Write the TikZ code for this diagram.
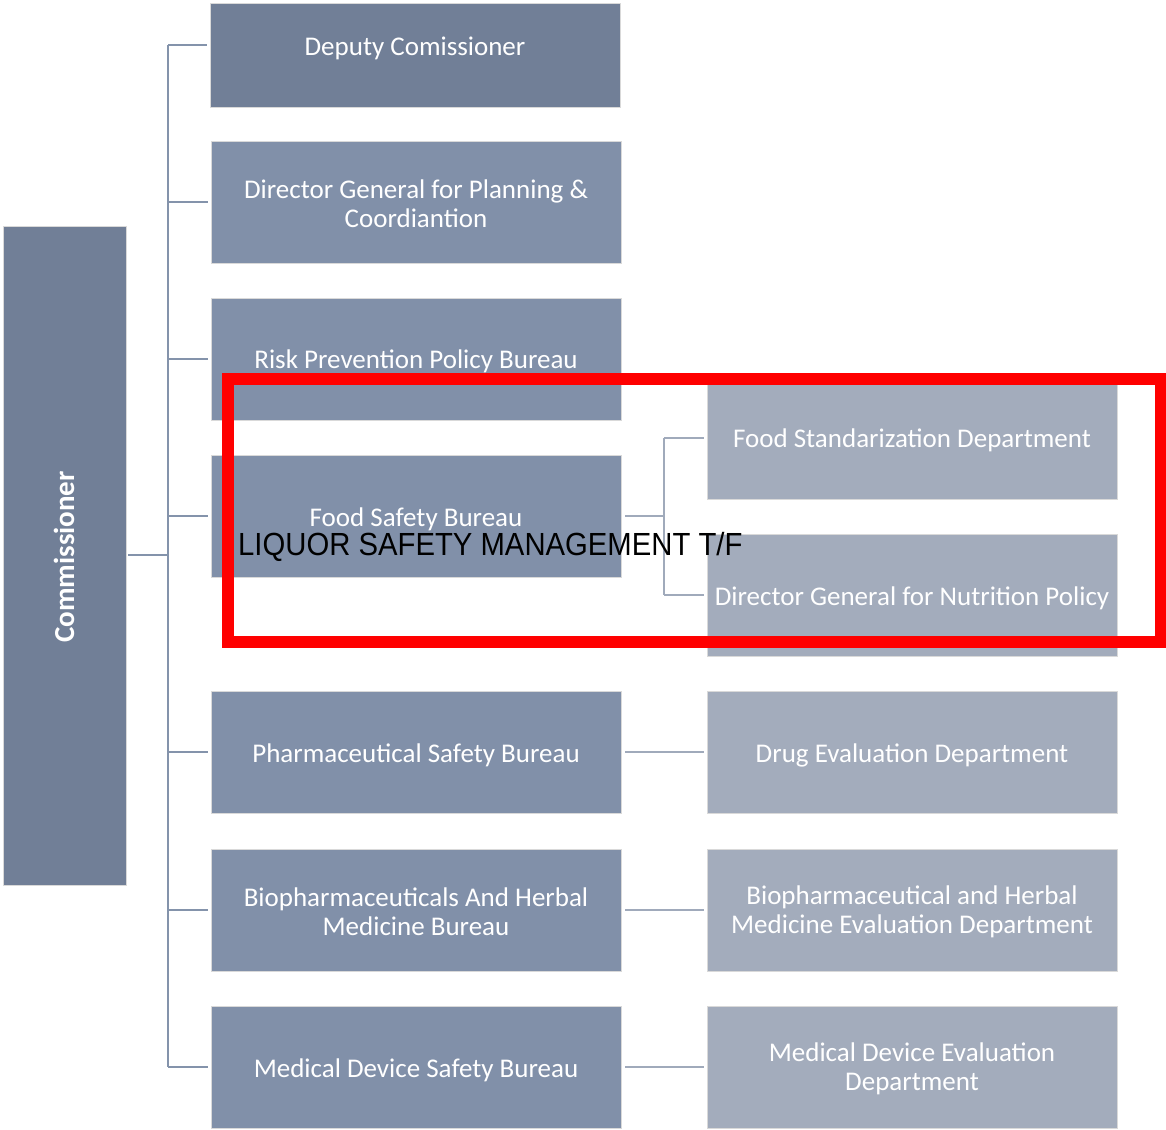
\documentclass[tikz,border=0pt]{standalone}
\usepackage{fontspec}
\setmainfont{Carlito}
\newfontfamily\arialf{Liberation Sans}
\definecolor{darkbox}{HTML}{717F97}
\definecolor{midbox}{HTML}{8190A9}
\definecolor{lightbox}{HTML}{A3ACBC}
\definecolor{busline}{HTML}{8493AB}
\definecolor{subline}{HTML}{A0AABB}
\begin{document}
\begin{tikzpicture}[x=1pt,y=-1pt,
  boxbase/.style={draw=white!85!black, line width=0.8pt, text=white, align=center, inner sep=0pt,
     font=\fontsize{27}{29}\selectfont},
  dkbox/.style={boxbase, fill=darkbox},
  mdbox/.style={boxbase, fill=midbox, minimum width=410pt, minimum height=122pt},
  ltbox/.style={boxbase, fill=lightbox, minimum width=410pt, minimum height=122pt},
  bus/.style={draw=busline, line width=2.8pt},
  sub/.style={draw=subline, line width=2.6pt},
  txt/.style={text=white, align=center, inner sep=0pt, font=\fontsize{27}{29}\selectfont}
]
\useasboundingbox (0,0) rectangle (1166,1129);

% Commissioner
\node[dkbox, minimum width=123pt, minimum height=659pt] (comm) at (64.5,555.5) {};
\node[txt, rotate=90, font=\bfseries\fontsize{29}{30}\selectfont] (commT) at (64,557) {Commissioner};

% Middle column
\node[dkbox, minimum width=410pt, minimum height=104pt] (dep) at (415,55) {};
\node[txt] (depT) at (415,48) {Deputy Comissioner};
\node[mdbox] (dgp) at (416,202) {};
\node[txt] (dgpT) at (416,204) {Director General for Planning \&\\Coordiantion};
\node[mdbox] (risk) at (416,359) {};
\node[txt] (riskT) at (416,361) {Risk Prevention Policy Bureau};
\node[mdbox] (food) at (416,516) {};
\node[txt] (foodT) at (416,519) {Food Safety Bureau};
\node[mdbox] (pharm) at (416,752) {};
\node[txt] (pharmT) at (416,755) {Pharmaceutical Safety Bureau};
\node[mdbox] (bio) at (416,910) {};
\node[txt] (bioT) at (416,912) {Biopharmaceuticals And Herbal\\Medicine Bureau};
\node[mdbox] (med) at (416,1067) {};
\node[txt] (medT) at (416,1070) {Medical Device Safety Bureau};

% Right column
\node[ltbox] (fstd) at (912,438) {};
\node[txt] (fstdT) at (912,440) {Food Standarization Department};
\node[ltbox] (nutr) at (912,595) {};
\node[txt] (nutrT) at (912,598) {Director General for Nutrition Policy};
\node[ltbox] (drug) at (912,752) {};
\node[txt] (drugT) at (912,755) {Drug Evaluation Department};
\node[ltbox] (bioe) at (912,910) {};
\node[txt] (bioeT) at (912,912) {Biopharmaceutical and Herbal\\Medicine Evaluation Department};
\node[ltbox] (mede) at (912,1067) {};
\node[txt] (medeT) at (912,1069) {Medical Device Evaluation\\Department};

% Bus from commissioner
\coordinate (busC) at (168,555);
\coordinate (busTop) at (168,45);
\coordinate (busBot) at (168,1067);
\draw[bus] ([xshift=2pt]comm.east |- busC) -- (busC);
\draw[bus] (busTop) -- (busBot);
\draw[bus] (busTop) -- ([xshift=-3pt]dep.west |- busTop);
\foreach \n in {dgp,risk,food,pharm,bio,med}{
  \draw[bus] (busTop |- \n.west) -- ([xshift=-3pt]\n.west);
}

% Food safety branch
\coordinate (fb) at (664,516);
\draw[sub] ([xshift=4pt]food.east) -- (fb);
\draw[sub] (fb |- fstd.west) -- (fb |- nutr.west);
\draw[sub] (fb |- fstd.west) -- ([xshift=-3pt]fstd.west);
\draw[sub] (fb |- nutr.west) -- ([xshift=-3pt]nutr.west);

% Other branches
\draw[sub] ([xshift=4pt]pharm.east) -- ([xshift=-3pt]drug.west);
\draw[sub] ([xshift=4pt]bio.east) -- ([xshift=-3pt]bioe.west);
\draw[sub] ([xshift=4pt]med.east) -- ([xshift=-3pt]mede.west);

% Overlay text
\node[anchor=base west, inner sep=0pt, xscale=0.915, font=\arialf\fontsize{32}{34}\selectfont] (liq) at (238,555) {LIQUOR SAFETY MANAGEMENT T/F};

% Red highlight
\node[draw=red, line width=12pt, minimum width=933pt, minimum height=263pt, inner sep=0pt] (hl) at (694.5,510.5) {};
\end{tikzpicture}
\end{document}
